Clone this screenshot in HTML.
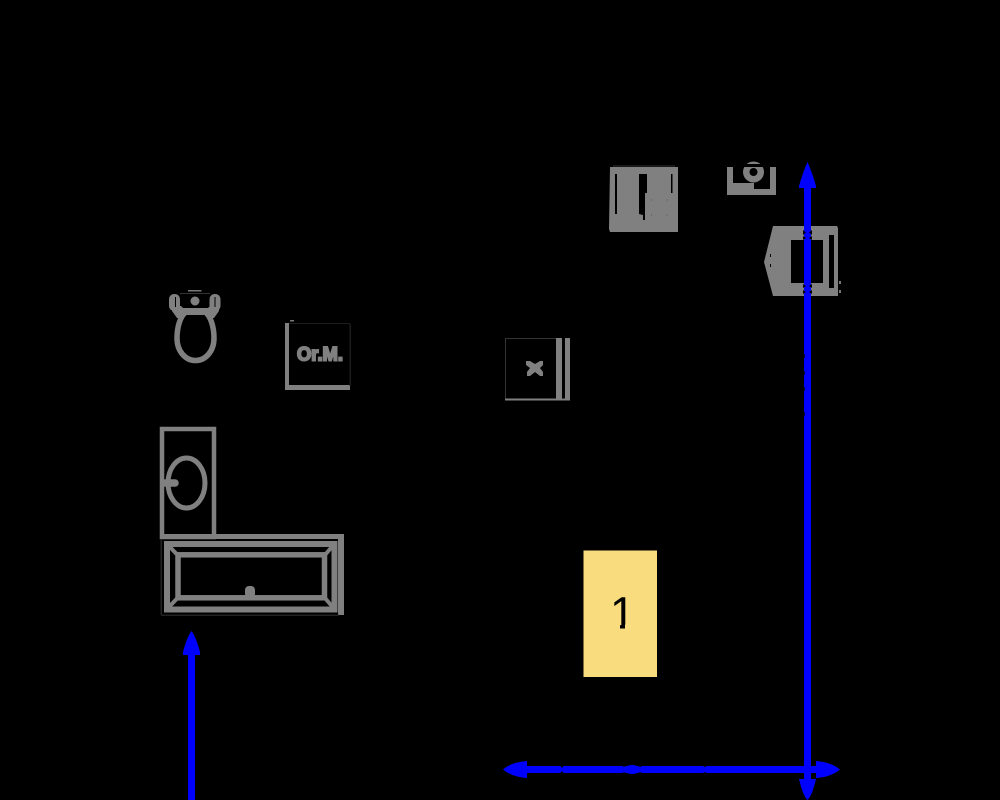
<!DOCTYPE html>
<html>
<head>
<meta charset="utf-8">
<style>
html,body{margin:0;padding:0;background:#000;}
svg{display:block;}
</style>
</head>
<body>
<svg width="1000" height="800" viewBox="0 0 1000 800" xmlns="http://www.w3.org/2000/svg">
<defs>
<clipPath id="one"><path d="M600 590H640V624.500H625V630H620V624.500H600Z"/></clipPath>
</defs>
<rect width="1000" height="800" fill="#000"/>

<!-- shower block -->
<path d="M610 167H678V232H610L609 229Z" fill="#808080"/>
<rect x="615" y="174" width="2" height="40" fill="#000"/>
<path d="M639 174H647V193H645V220H643V215L639 214Z" fill="#000"/>
<rect x="671" y="174" width="1.500" height="19" fill="#000"/>
<rect x="613" y="165" width="62" height="2" fill="#1a1a1a"/>
<g fill="#555">
<rect x="651" y="199.500" width="1" height="1"/><rect x="666.500" y="199.500" width="1" height="1"/>
<rect x="651" y="214.500" width="1" height="1"/><rect x="666.500" y="214.500" width="1" height="1"/>
</g>

<!-- top basin -->
<rect x="727" y="167" width="49" height="28" fill="#808080"/>
<path d="M733 166H770V189H754V183H733Z" fill="#000"/>
<circle cx="753.500" cy="172" r="10.500" fill="#808080"/>
<circle cx="753.500" cy="172" r="4" fill="#000"/>
<rect x="730" y="164" width="47" height="3" fill="#000"/>

<!-- right cabinet -->
<path d="M773 226H837L838 228V296H773L764 262Z" fill="#808080"/>
<rect x="791" y="240" width="32" height="43" fill="#000"/>
<rect x="829" y="235" width="5" height="53" fill="#000"/>
<rect x="770" y="254" width="1" height="3" fill="#000"/>
<rect x="770" y="264" width="1" height="3" fill="#000"/>
<rect x="839" y="281" width="2" height="3" fill="#777"/>
<rect x="839" y="290" width="2" height="3" fill="#777"/>

<!-- toilet -->
<rect x="188" y="290" width="13.500" height="1.500" fill="#777"/>
<path d="M186 312H205C211 316 214 328 214 338C214 352 205 360.500 195.500 360.500C186 360.500 177 352 177 338C177 328 180 316 186 312Z" fill="none" stroke="#808080" stroke-width="5.500"/>
<path d="M172 306H181L183 308H208L210 306H219V311L214 318H209L206 315H185L182 318H177L172 311Z" fill="#808080"/>
<rect x="169" y="294" width="11" height="17" rx="5" fill="#808080"/>
<rect x="209.500" y="294" width="11" height="17" rx="5" fill="#808080"/>
<rect x="175" y="297" width="1" height="10" fill="#000"/>
<rect x="214.500" y="297" width="1" height="10" fill="#000"/>
<rect x="180" y="293" width="30" height="1" fill="#333"/>
<circle cx="195" cy="301" r="4.500" fill="#808080"/>

<!-- Or.M. -->
<rect x="285" y="323" width="4" height="67" fill="#808080"/>
<rect x="285" y="385" width="65" height="5" fill="#808080"/>
<rect x="349.500" y="324" width="1.500" height="62" fill="#1c1c1c"/>
<rect x="289" y="323" width="61" height="1" fill="#1c1c1c"/>
<rect x="290" y="320" width="4" height="1.500" fill="#777"/>
<text x="297" y="360.500" font-family="'Liberation Sans',sans-serif" font-weight="700" font-size="19" fill="#808080" stroke="#808080" stroke-width="1.900" textLength="46" lengthAdjust="spacingAndGlyphs">Or.M.</text>

<!-- x box -->
<rect x="505" y="338" width="52" height="1" fill="#333"/>
<rect x="505" y="338" width="1" height="61" fill="#333"/>
<rect x="505" y="398.500" width="65" height="2" fill="#808080"/>
<rect x="556" y="338" width="6" height="62" fill="#808080"/>
<rect x="565" y="338" width="5" height="62" fill="#808080"/>
<path d="M526 361L530 361L535 364L540 361L543 361V365L540 368L543 372V376H540L535 372L530 376H527V372L530 368L526 365Z" fill="#808080"/>

<!-- left sink -->
<rect x="162" y="429" width="52" height="108" fill="none" stroke="#808080" stroke-width="4.500"/>
<ellipse cx="186.500" cy="483" rx="18.500" ry="25" fill="none" stroke="#808080" stroke-width="5"/>
<path d="M165 483H175" stroke="#808080" stroke-width="7.500" stroke-linecap="round" fill="none"/>

<!-- bath -->
<rect x="160" y="534" width="184" height="5" fill="#808080"/>
<rect x="338" y="534" width="6" height="81" fill="#808080"/>
<rect x="160.500" y="539" width="1.500" height="76" fill="#222"/>
<rect x="161" y="614.500" width="178" height="1.500" fill="#222"/>
<rect x="167" y="544" width="167.500" height="65.500" fill="none" stroke="#808080" stroke-width="6"/>
<rect x="178" y="554.800" width="146.500" height="43" fill="none" stroke="#808080" stroke-width="5.500"/>
<path d="M168 545L178 555.500M333.500 545L324.500 555.500M168 608L178 597.500M333.500 608L324.500 597.500" stroke="#808080" stroke-width="4" fill="none"/>
<rect x="245" y="586" width="10" height="12" rx="4" fill="#808080"/>

<!-- yellow box -->
<rect x="583.500" y="550.500" width="73.500" height="126.500" fill="#f9dc7e"/>
<text x="622.500" y="628.500" text-anchor="middle" font-family="'Liberation Sans',sans-serif" font-size="45" fill="#000" clip-path="url(#one)">1</text>

<!-- blue arrows -->
<g fill="#0000ff">
<rect x="804" y="185" width="7" height="597"/>
<path d="M807.500 162Q812 172 816 186V188H799V186Q803 172 807.500 162Z"/>
<path d="M807.500 800Q812 796 816 779H799Q803 796 807.500 800Z"/>
<rect x="525" y="766" width="293" height="7"/>
<path d="M503 769.500Q512 762 527 761V778Q512 777 503 769.500Z"/>
<path d="M840 769.500Q831 762 816 761V778Q831 777 840 769.500Z"/>
<rect x="188" y="652" width="7" height="148"/>
<path d="M191.500 631Q196 637 200 652V655H183V652Q187 637 191.500 631Z"/>
<ellipse cx="632" cy="769.500" rx="8" ry="4.500"/>
</g>

<!-- notches in blue lines -->
<g fill="#000">
<path d="M560 765.500H564L562 768ZM560 773.500H564L562 771Z"/>
<path d="M622 765.500H626L624 767ZM622 773.500H626L624 772Z"/>
<path d="M638 765.500H643L640 767ZM638 773.500H643L640 772Z"/>
<path d="M702 765.500H707L705 767ZM702 773.500H707L705 772Z"/>
<rect x="803.500" y="354" width="1.200" height="4"/>
<rect x="803.500" y="371" width="1.200" height="4"/>
<rect x="803.500" y="387" width="1.200" height="4"/>
<rect x="803.500" y="412" width="1.200" height="4"/>
<path d="M803 230L806 232.500L803 235Z M812 230L809 232.500L812 235Z M803 236L806 238L803 240Z M812 236L809 238L812 240Z"/>
<path d="M803 284L806 286L803 288Z M812 284L809 286L812 288Z M803 290L806 292L803 294Z M812 290L809 292L812 294Z"/>
</g>
</svg>
</body>
</html>
